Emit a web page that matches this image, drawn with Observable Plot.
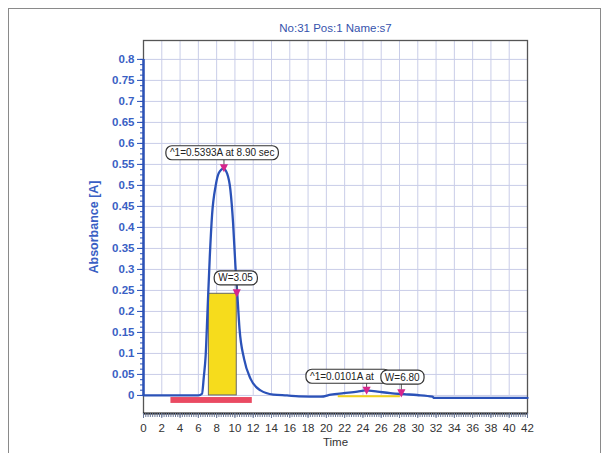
<!DOCTYPE html>
<html>
<head>
<meta charset="utf-8">
<script src="https://cdn.jsdelivr.net/npm/d3@7"></script>
<script src="https://cdn.jsdelivr.net/npm/@observablehq/plot@0.6"></script>
<style>
  body { margin: 0; background: #fff; }
  #wrap { position: relative; width: 609px; height: 453px; overflow: hidden; }
  #border { position: absolute; left: 8px; top: 8px; width: 591px; height: 470px; border: 1px solid #8a8a8a; }
  #chart { position: absolute; left: 0; top: 0; }
</style>
</head>
<body>
<div id="wrap"><div id="border"></div><div id="chart"></div></div>
<script>
// ---- data ----
const title = "No:31 Pos:1 Name:s7";
const yLabel = "Absorbance [A]";
const xLabel = "Time";

const time = [0, 2, 4, 6, 6.4, 6.6, 6.8, 7.0, 7.25, 7.5, 7.9, 8.25, 8.75, 9.15, 9.5, 9.8, 10.05, 10.25, 10.5, 11.0, 11.7, 12.8, 14.2, 15.7, 17, 19.4, 20.5, 21.9, 23.4, 24.3, 25.6, 27.0, 28.5, 29.9, 31.6, 31.8, 35, 42];
const absorbance = [0, 0, 0, 0, 0.004, 0.045, 0.095, 0.2, 0.33, 0.43, 0.5, 0.53, 0.54, 0.528, 0.49, 0.41, 0.31, 0.245, 0.159, 0.087, 0.04, 0.012, 0.002, 0, -0.002, -0.003, 0.002, 0.0055, 0.009, 0.012, 0.009, 0.0055, 0.003, 0.001, -0.003, -0.006, -0.006, -0.006];

const yTicks = [0, 0.05, 0.1, 0.15, 0.2, 0.25, 0.3, 0.35, 0.4, 0.45, 0.5, 0.55, 0.6, 0.65, 0.7, 0.75, 0.8];
const xTicks = [0, 2, 4, 6, 8, 10, 12, 14, 16, 18, 20, 22, 24, 26, 28, 30, 32, 34, 36, 38, 40, 42];

const markerTime = [8.8, 10.2, 24.4, 28.2];
const markerAbs = [0.54, 0.242, 0.0101, 0.004];

const labelText = ["^1=0.5393A at 8.90 sec", "W=3.05", "^1=0.0101A at", "W=6.80"];
const labelTime = [8.6, 10.07, 21.7, 28.3];
const labelAbs = [0.577, 0.279, 0.045, 0.043];

const widthStart = [7.15, 21.3];
const widthEnd = [10.2, 28.1];
const widthLevel = [0.242, -0.002];

const eventStart = [3];
const eventEnd = [11.9];

// ---- build tables ----
const curve = time.map((t, i) => ({t, a: absorbance[i]}));
const markers = markerTime.map((t, i) => ({t, a: markerAbs[i]}));
const labels = labelText.map((s, i) => ({s, t: labelTime[i], a: labelAbs[i]}));
const connectors = markers.map((m, i) => ({t: m.t, a1: m.a + 0.008, a2: labelAbs[i] - 0.014}));
const minorY = d3.range(0, 65).map(i => i * 0.0125);
const minorX = d3.range(0, 169).map(i => i * 0.25);
const yDomain = [-0.043, 0.845];

const blue = "#2b52b8";
const triDown = {
  draw(ctx, size) {
    const r = Math.sqrt(size) / 2;
    ctx.moveTo(-r, -r * 1.1);
    ctx.lineTo(r, -r * 1.1);
    ctx.lineTo(0, r * 0.9);
    ctx.closePath();
  }
};

const plot = Plot.plot({
  width: 609,
  height: 453,
  marginLeft: 143,
  marginRight: 82,
  marginTop: 40,
  marginBottom: 40,
  style: {fontFamily: "'Liberation Sans', Arial, sans-serif", fontSize: "11px", background: "transparent", overflow: "visible"},
  x: {domain: [0, 42], axis: null},
  y: {domain: yDomain, axis: null},
  marks: [
    // grid
    Plot.ruleY(yTicks, {x1: 0, x2: 42, stroke: "#c9cde8", strokeWidth: 1}),
    Plot.ruleX(xTicks, {y1: 0, y2: yDomain[1], stroke: "#c9cde8", strokeWidth: 1}),
    // frame
    Plot.frame({stroke: "#555", strokeWidth: 1.3}),
    Plot.ruleY([yDomain[0]], {stroke: "#222", strokeWidth: 2}),
    // y axis
    Plot.ruleX([0], {y1: 0, y2: 0.8, stroke: blue, strokeWidth: 2.5}),
    Plot.axisY(minorY, {anchor: "left", tickSize: 3, tickFormat: () => "", stroke: blue, label: null}),
    Plot.axisY(yTicks, {anchor: "left", tickSize: 6, tickPadding: 3, tickFormat: d => String(+d.toFixed(2)), stroke: blue, fill: "#3a5fc4", fontWeight: "bold", fontSize: 11.5, label: null}),
    // x axis
    Plot.axisX(minorX, {anchor: "bottom", tickSize: 4, tickFormat: () => "", stroke: "#6a7898", label: null}),
    Plot.axisX(xTicks, {anchor: "bottom", tickSize: 5, tickPadding: 5, tickFormat: d => String(d), stroke: "#6a7898", fill: "#333", fontSize: 11.5, label: null}),
    // event bar
    Plot.rect(eventStart.map((s, i) => ({s, e: eventEnd[i]})), {x1: "s", x2: "e", y1: -0.005, y2: -0.019, fill: "#ea4a62"}),
    // width areas
    Plot.rect([{s: widthStart[0], e: widthEnd[0], l: widthLevel[0]}], {x1: "s", x2: "e", y1: 0, y2: "l", fill: "#f6dc1c", stroke: "#666", strokeWidth: 1}),
    Plot.ruleY([{s: widthStart[1], e: widthEnd[1], l: widthLevel[1]}], {x1: "s", x2: "e", y: "l", stroke: "#f2d21a", strokeWidth: 2}),
    // curve
    Plot.line(curve, {x: "t", y: "a", stroke: blue, strokeWidth: 2.3, curve: "monotone-x"}),
    // connectors
    Plot.ruleX(connectors, {x: "t", y1: "a1", y2: "a2", stroke: "#555", strokeWidth: 1}),
    // markers
    Plot.dot(markers, {x: "t", y: "a", symbol: triDown, r: 4.6, fill: "#d6268c", stroke: "none"}),
    // labels
    Plot.text(labels, {x: "t", y: "a", text: "s", fontSize: 10, fill: "#222", className: "peaklbl"}),
    // titles
    Plot.text([title], {frameAnchor: "top", dy: -17, fill: "#3653ad", fontSize: 11.5}),
    Plot.text([yLabel], {frameAnchor: "left", textAnchor: "middle", dx: -50, rotate: -90, fill: "#3a5fc4", fontWeight: "bold", fontSize: 12.5}),
    Plot.text([xLabel], {frameAnchor: "bottom", dy: 32, fill: "#333", fontSize: 11.5})
  ]
});

document.getElementById("chart").appendChild(plot);

// rounded boxes behind peak labels
const svgNS = "http://www.w3.org/2000/svg";
plot.querySelectorAll("g.peaklbl text").forEach(t => {
  const b = t.getBBox();
  const extra = t.textContent.startsWith("^1=0.0101") ? 12 : 0;
  const r = document.createElementNS(svgNS, "rect");
  r.setAttribute("x", b.x - 4);
  r.setAttribute("y", b.y - 1.5);
  r.setAttribute("width", b.width + 8 + extra);
  r.setAttribute("height", b.height + 3);
  r.setAttribute("rx", 6);
  r.setAttribute("fill", "#fff");
  r.setAttribute("stroke", "#333");
  r.setAttribute("stroke-width", 1.2);
  const tr = t.getAttribute("transform");
  if (tr) r.setAttribute("transform", tr);
  t.parentNode.insertBefore(r, t);
});
</script>
</body>
</html>
